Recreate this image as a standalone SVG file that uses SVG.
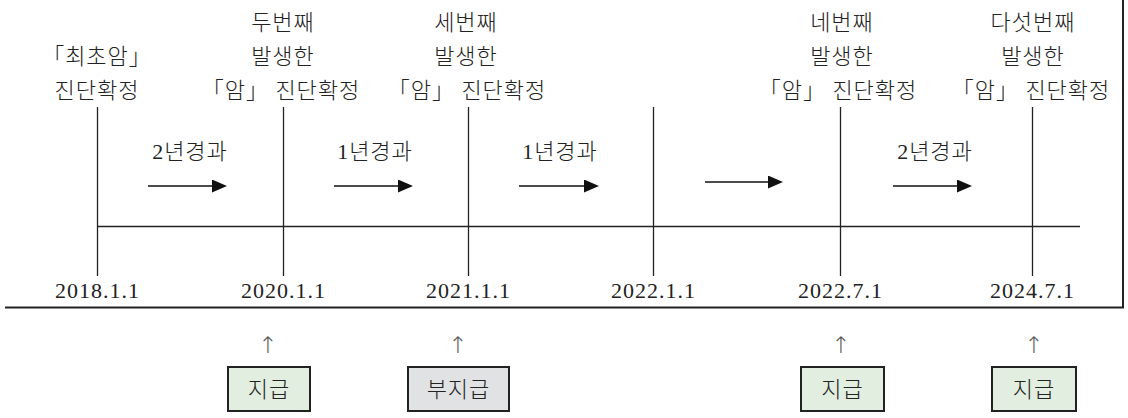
<svg xmlns="http://www.w3.org/2000/svg" width="1128" height="418" viewBox="0 0 1128 418">
<style>
text{font-family:"Liberation Serif","Noto Sans CJK KR",serif;fill:#222;font-size:22px;font-weight:300;letter-spacing:1px;text-anchor:middle}
.ln{stroke:#222;stroke-width:1.3;fill:none}
.frame{stroke:#222;stroke-width:2;fill:none}
.arr{stroke:#111;stroke-width:1.6;fill:none}
.up{font-family:"DejaVu Sans",sans-serif;fill:#555;font-size:23px;letter-spacing:0}
.green{fill:#e2eee0;stroke:#222;stroke-width:2}
.gray{fill:#e1e2e4;stroke:#222;stroke-width:2}
.dt{letter-spacing:0;font-weight:400}
</style>
<defs>
<marker id="tri" markerWidth="16" markerHeight="13" refX="1" refY="6.5" orient="auto" markerUnits="userSpaceOnUse">
<path d="M0,0 L15,6.5 L0,13 Z" fill="#111"/>
</marker>
</defs>
<rect width="1128" height="418" fill="#fff"/>
<g id="frame">
<path class="frame" d="M5,307.5 H1123 V0"/>
</g>
<g id="connectors">
<line class="ln" x1="97" y1="226.5" x2="1080" y2="226.5"/>
<line class="ln" x1="97.5" y1="107" x2="97.5" y2="276"/>
<line class="ln" x1="283.5" y1="107" x2="283.5" y2="276"/>
<line class="ln" x1="468.5" y1="107" x2="468.5" y2="276"/>
<line class="ln" x1="653.5" y1="107" x2="653.5" y2="276"/>
<line class="ln" x1="840.5" y1="107" x2="840.5" y2="276"/>
<line class="ln" x1="1032.5" y1="107" x2="1032.5" y2="276"/>
<line class="arr" x1="148" y1="186" x2="213" y2="186" marker-end="url(#tri)"/>
<line class="arr" x1="334" y1="186" x2="399" y2="186" marker-end="url(#tri)"/>
<line class="arr" x1="519" y1="186" x2="585" y2="186" marker-end="url(#tri)"/>
<line class="arr" x1="705" y1="182" x2="769" y2="182" marker-end="url(#tri)"/>
<line class="arr" x1="893" y1="186" x2="958" y2="186" marker-end="url(#tri)"/>
</g>
<g id="event1">
<text x="97" y="64">「최초암」</text>
<text x="97" y="98">진단확정</text>
</g>
<g id="event2">
<text x="283" y="30">두번째</text>
<text x="283" y="64">발생한</text>
<text x="281" y="98">「암」 진단확정</text>
</g>
<g id="event3">
<text x="466" y="30">세번째</text>
<text x="466" y="64">발생한</text>
<text x="467" y="98">「암」 진단확정</text>
</g>
<g id="event4">
<text x="842" y="30">네번째</text>
<text x="842" y="64">발생한</text>
<text x="838" y="98">「암」 진단확정</text>
</g>
<g id="event5">
<text x="1033" y="30">다섯번째</text>
<text x="1033" y="64">발생한</text>
<text x="1031" y="98">「암」 진단확정</text>
</g>
<g id="periods">
<text x="190" y="159">2년경과</text>
<text x="375" y="159">1년경과</text>
<text x="560" y="159">1년경과</text>
<text x="935" y="159">2년경과</text>
</g>
<g id="dates">
<text class="dt" x="97" y="298" textLength="84" lengthAdjust="spacing">2018.1.1</text>
<text class="dt" x="283" y="298" textLength="84" lengthAdjust="spacing">2020.1.1</text>
<text class="dt" x="468" y="298" textLength="84" lengthAdjust="spacing">2021.1.1</text>
<text class="dt" x="653" y="298" textLength="84" lengthAdjust="spacing">2022.1.1</text>
<text class="dt" x="840" y="298" textLength="84" lengthAdjust="spacing">2022.7.1</text>
<text class="dt" x="1032" y="298" textLength="84" lengthAdjust="spacing">2024.7.1</text>
</g>
<g id="pay1">
<text class="up" x="268" y="353">↑</text>
<rect class="green" x="228" y="367" width="82" height="44"/>
<text x="269" y="397">지급</text>
</g>
<g id="pay2">
<text class="up" x="458" y="353">↑</text>
<rect class="gray" x="408" y="367" width="101" height="44"/>
<text x="458.5" y="397">부지급</text>
</g>
<g id="pay3">
<text class="up" x="841" y="353">↑</text>
<rect class="green" x="801" y="367" width="83" height="44"/>
<text x="842.5" y="397">지급</text>
</g>
<g id="pay4">
<text class="up" x="1034" y="353">↑</text>
<rect class="green" x="992" y="367" width="84" height="44"/>
<text x="1034" y="397">지급</text>
</g>
</svg>
